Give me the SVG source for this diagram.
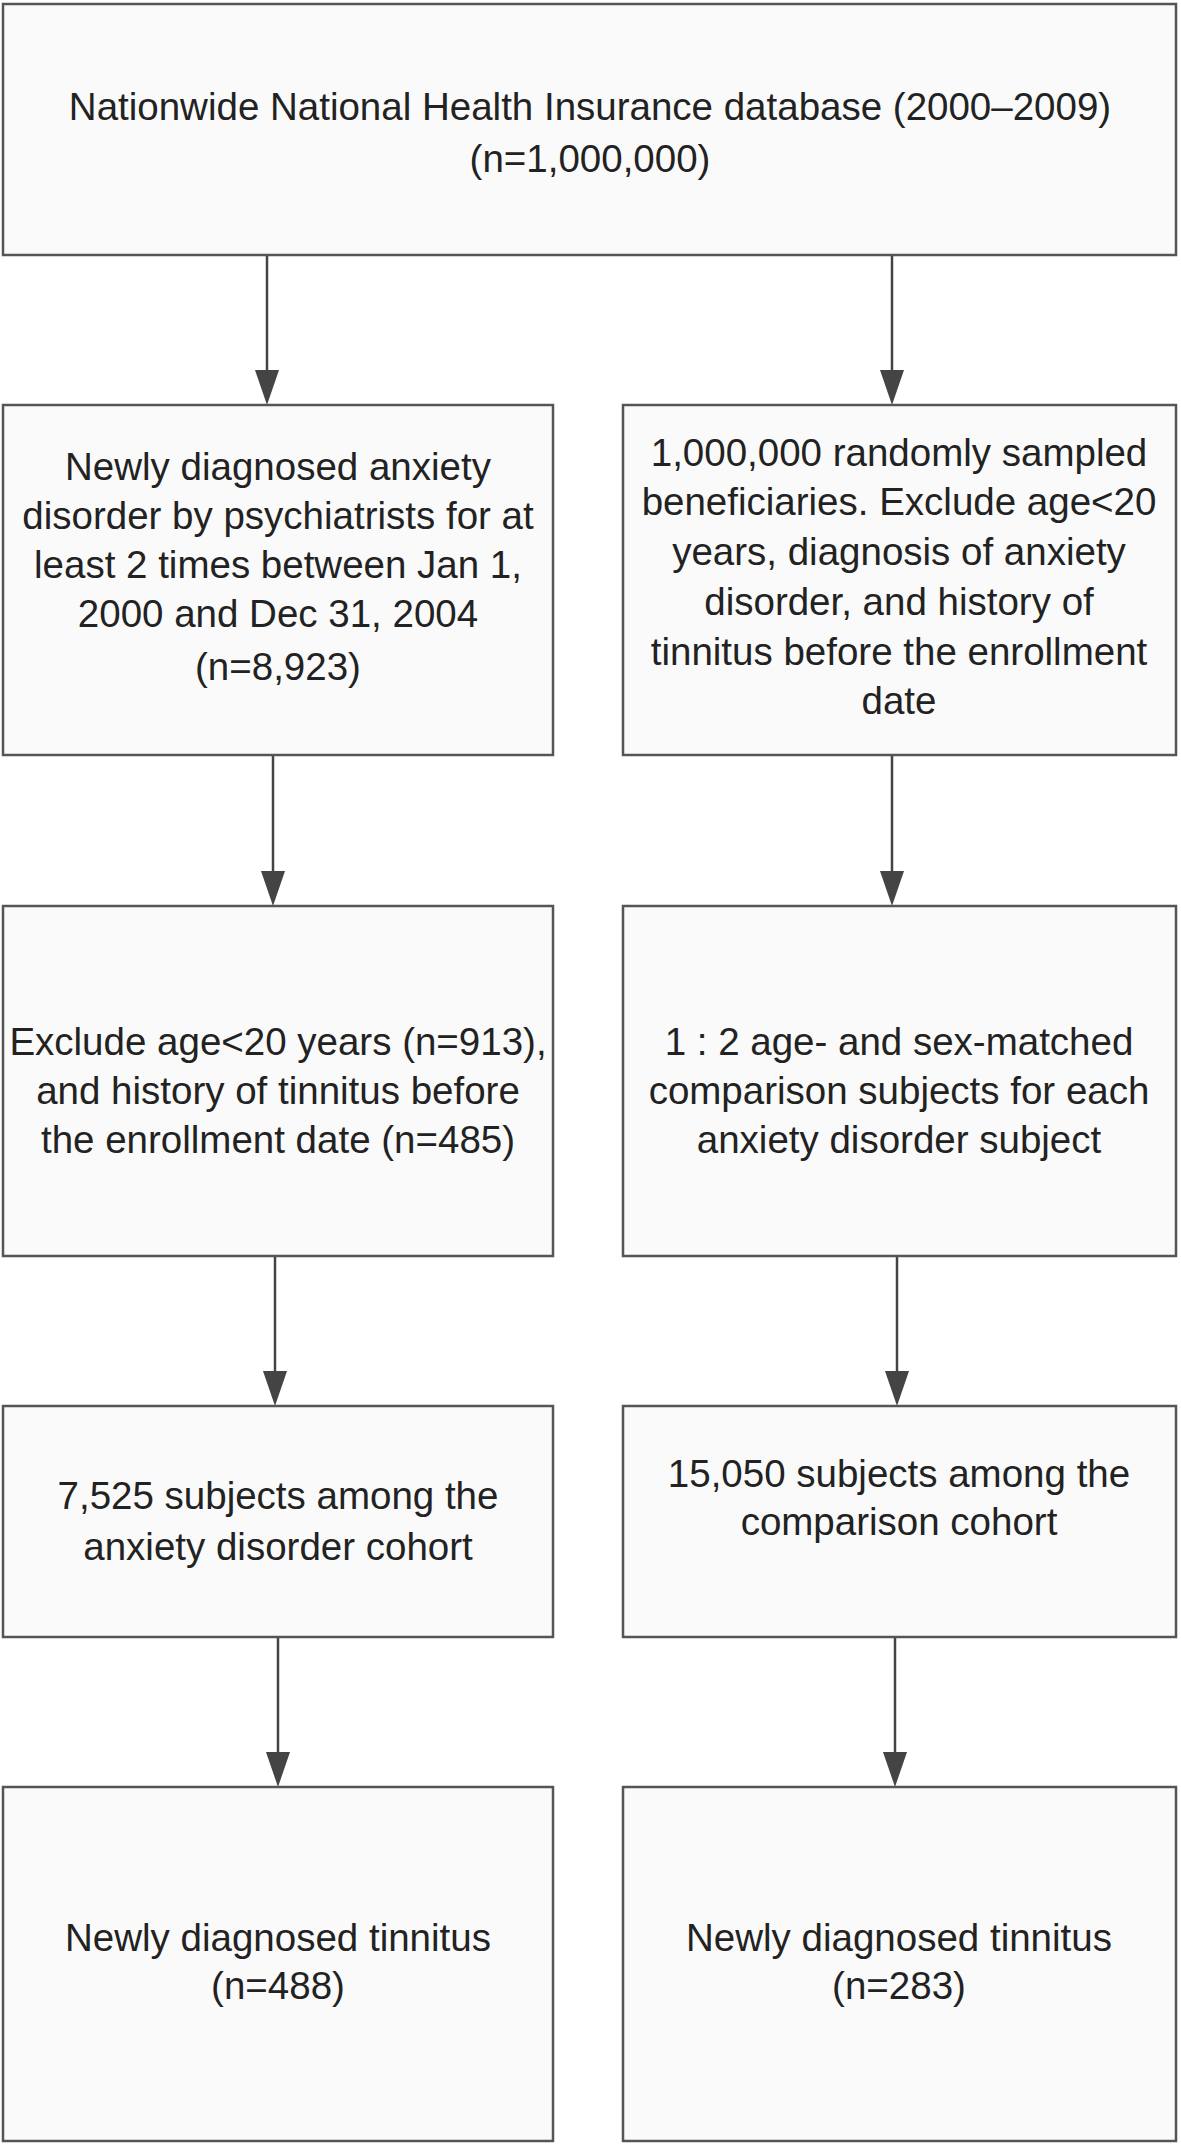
<svg xmlns="http://www.w3.org/2000/svg" width="1181" height="2149" viewBox="0 0 1181 2149">
<style>
.b{fill:#fafafa;stroke:#555;stroke-width:2.5}
text{font-family:"Liberation Sans",Arial,sans-serif;font-size:38.5px;fill:#222;text-anchor:middle;dominant-baseline:central}
.c{stroke:#444;stroke-width:2.5;fill:none}
</style>
<rect width="1181" height="2149" fill="#fff"/>
<g id="connectors">
<line class="c" x1="267" y1="255" x2="267" y2="370"/><path d="M255,370 L267,405 L279,370 z" fill="#444"/>
<line class="c" x1="892" y1="255" x2="892" y2="370"/><path d="M880,370 L892,405 L904,370 z" fill="#444"/>
<line class="c" x1="273" y1="755" x2="273" y2="871"/><path d="M261,871 L273,906 L285,871 z" fill="#444"/>
<line class="c" x1="892" y1="755" x2="892" y2="871"/><path d="M880,871 L892,906 L904,871 z" fill="#444"/>
<line class="c" x1="275" y1="1256" x2="275" y2="1371"/><path d="M263,1371 L275,1406 L287,1371 z" fill="#444"/>
<line class="c" x1="897" y1="1256" x2="897" y2="1371"/><path d="M885,1371 L897,1406 L909,1371 z" fill="#444"/>
<line class="c" x1="278" y1="1637" x2="278" y2="1752"/><path d="M266,1752 L278,1787 L290,1752 z" fill="#444"/>
<line class="c" x1="895" y1="1637" x2="895" y2="1752"/><path d="M883,1752 L895,1787 L907,1752 z" fill="#444"/>
</g>
<g id="n1"><rect class="b" x="3" y="4" width="1173" height="251"/>
<text x="590" y="106">Nationwide National Health Insurance database (2000–2009)</text>
<text x="590" y="158">(n=1,000,000)</text></g>
<g id="n2"><rect class="b" x="3" y="405" width="550" height="350"/>
<text x="278" y="466">Newly diagnosed anxiety</text>
<text x="278" y="515">disorder by psychiatrists for at</text>
<text x="278" y="564">least 2 times between Jan 1,</text>
<text x="278" y="613">2000 and Dec 31, 2004</text>
<text x="278" y="666">(n=8,923)</text></g>
<g id="n3"><rect class="b" x="623" y="405" width="553" height="350"/>
<text x="899" y="452">1,000,000 randomly sampled</text>
<text x="899" y="501">beneficiaries. Exclude age&lt;20</text>
<text x="899" y="551">years, diagnosis of anxiety</text>
<text x="899" y="601">disorder, and history of</text>
<text x="899" y="651">tinnitus before the enrollment</text>
<text x="899" y="700">date</text></g>
<g id="n4"><rect class="b" x="3" y="906" width="550" height="350"/>
<text x="278" y="1041">Exclude age&lt;20 years (n=913),</text>
<text x="278" y="1090">and history of tinnitus before</text>
<text x="278" y="1139">the enrollment date (n=485)</text></g>
<g id="n5"><rect class="b" x="623" y="906" width="553" height="350"/>
<text x="899" y="1041">1 : 2 age- and sex-matched</text>
<text x="899" y="1090">comparison subjects for each</text>
<text x="899" y="1139">anxiety disorder subject</text></g>
<g id="n6"><rect class="b" x="3" y="1406" width="550" height="231"/>
<text x="278" y="1495">7,525 subjects among the</text>
<text x="278" y="1546">anxiety disorder cohort</text></g>
<g id="n7"><rect class="b" x="623" y="1406" width="553" height="231"/>
<text x="899" y="1473">15,050 subjects among the</text>
<text x="899" y="1521">comparison cohort</text></g>
<g id="n8"><rect class="b" x="3" y="1787" width="550" height="354"/>
<text x="278" y="1937">Newly diagnosed tinnitus</text>
<text x="278" y="1985">(n=488)</text></g>
<g id="n9"><rect class="b" x="623" y="1787" width="553" height="354"/>
<text x="899" y="1937">Newly diagnosed tinnitus</text>
<text x="899" y="1985">(n=283)</text></g>
</svg>
